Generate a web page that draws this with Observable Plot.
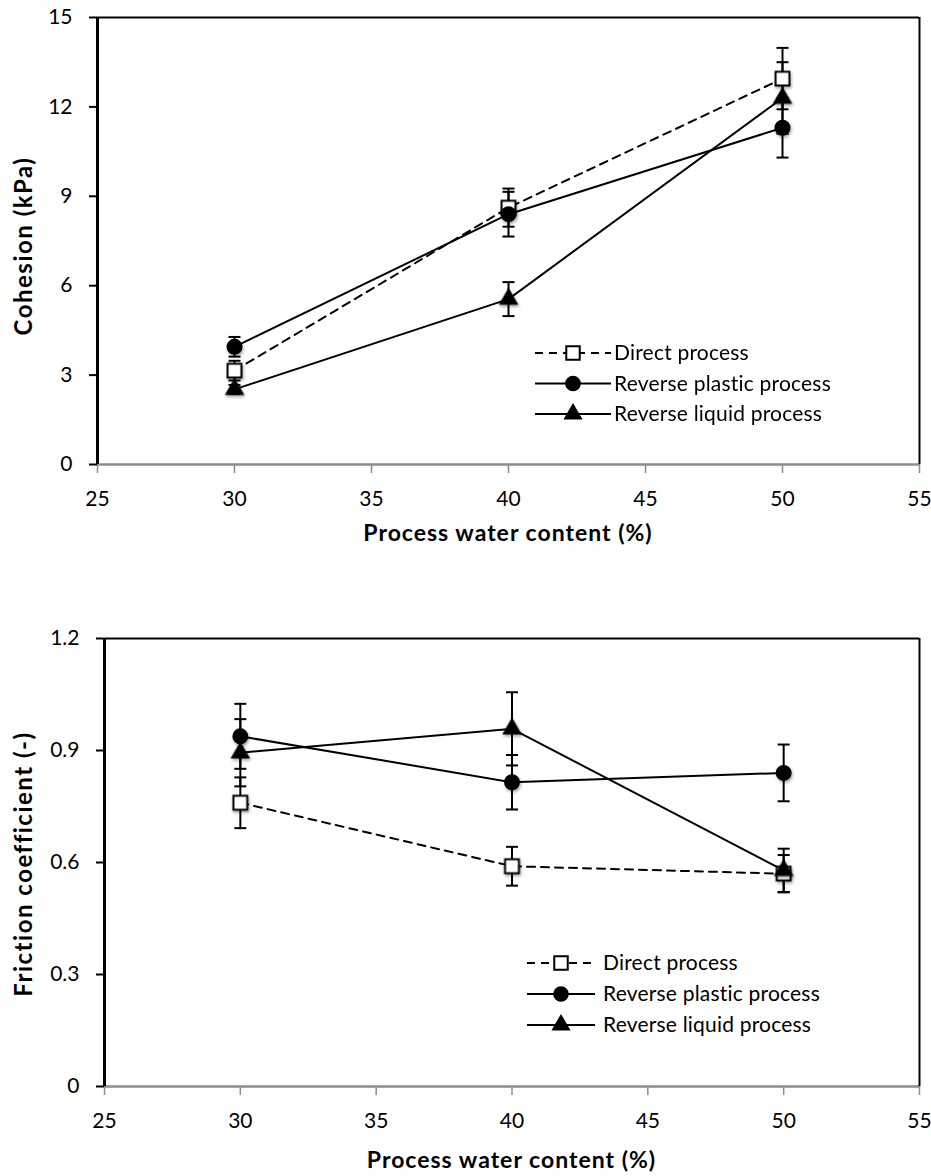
<!DOCTYPE html>
<html>
<head>
<meta charset="utf-8">
<script src="https://cdn.jsdelivr.net/npm/d3@7"></script>
<script src="https://cdn.jsdelivr.net/npm/@observablehq/plot@0.6"></script>
<style>
  html, body { margin: 0; padding: 0; background: white; }
  #page { position: relative; width: 931px; height: 1176px; overflow: hidden; font-family: Lato, "Open Sans", sans-serif; }
  .panel { position: absolute; left: 0; }
  .xtitle { position: absolute; font-weight: bold; font-size: 23px; letter-spacing: 1px; line-height: 26px; text-align: center; color: black; white-space: nowrap; }
  .ytitle { position: absolute; font-weight: bold; font-size: 24px; letter-spacing: 1.5px; line-height: 26px; text-align: center; color: black; width: 340px; height: 26px; transform: rotate(-90deg); transform-origin: center center; white-space: nowrap; }
  .legend { position: absolute; }
</style>
</head>
<body>
<div id="page"></div>
<script>
// ---- data ----
const water = [30, 40, 50];
const xTicks = [25, 30, 35, 40, 45, 50, 55];
const seriesNames = ["Direct process", "Reverse plastic process", "Reverse liquid process"];
const xTitle = "Process water content (%)";

const cohesionTitle = "Cohesion (kPa)";
const cohesionTicks = [0, 3, 6, 9, 12, 15];
const cohesionDirect = [3.15, 8.62, 12.95];
const cohesionDirectErr = [0.33, 0.64, 1.03];
const cohesionPlastic = [3.95, 8.4, 11.3];
const cohesionPlasticErr = [0.33, 0.75, 1.0];
const cohesionLiquid = [2.52, 5.55, 12.3];
const cohesionLiquidErr = [0.15, 0.57, 1.2];

const frictionTitle = "Friction coefficient (-)";
const frictionTicks = [0, 0.3, 0.6, 0.9, 1.2];
const frictionDirect = [0.76, 0.59, 0.57];
const frictionDirectErr = [0.068, 0.052, 0.05];
const frictionPlastic = [0.938, 0.815, 0.84];
const frictionPlasticErr = [0.087, 0.073, 0.076];
const frictionLiquid = [0.894, 0.958, 0.579];
const frictionLiquidErr = [0.09, 0.098, 0.058];

// ---- styling of the series ----
const seriesStyle = [
  {symbol: "square", fill: "white", r: 7.8, dash: "8,6"},
  {symbol: "circle", fill: "black", r: 7, dash: null},
  {symbol: "triangle", fill: "black", r: 6, dash: null}
];

function rows(values, errs) {
  return water.map((w, i) => ({x: w, y: values[i], e: errs[i]}));
}

const capSymbol = {
  draw(context, size) {
    const r = Math.sqrt(size / Math.PI);
    context.moveTo(-r, 0);
    context.lineTo(r, 0);
  }
};

function panel({yTicks, series, height, marginTop, marginBottom, marginLeft, tickFormat}) {
  const yMin = yTicks[0], yMax = yTicks[yTicks.length - 1];
  const marks = [
    Plot.ruleY([0], {stroke: "#8c8c8c", strokeWidth: 2.5}),
    Plot.ruleY([yMax], {stroke: "black", strokeWidth: 2}),
    Plot.ruleX([xTicks[xTicks.length - 1]], {stroke: "black", strokeWidth: 2}),
    Plot.axisX({ticks: xTicks, tickSize: 9, tickPadding: 18, stroke: "#8c8c8c", strokeWidth: 1.5, label: null, fill: "black", fontSize: 21}),
    Plot.axisY({ticks: yTicks, tickSize: 8, tickPadding: 17, strokeWidth: 2, label: null, tickFormat, fill: "black", fontSize: 21}),
    Plot.ruleX([xTicks[0]], {stroke: "black", strokeWidth: 3})
  ];
  series.forEach((data, i) => {
    const st = seriesStyle[i];
    marks.push(Plot.line(data, {x: "x", y: "y", stroke: "black", strokeWidth: 2, strokeDasharray: st.dash || undefined}));
  });
  series.forEach((data) => {
    marks.push(Plot.ruleX(data, {x: "x", y1: d => d.y - d.e, y2: d => d.y + d.e, stroke: "black", strokeWidth: 2}));
    marks.push(Plot.dot(data, {x: "x", y: d => d.y + d.e, symbol: capSymbol, r: 6, stroke: "black", strokeWidth: 2}));
    marks.push(Plot.dot(data, {x: "x", y: d => d.y - d.e, symbol: capSymbol, r: 6, stroke: "black", strokeWidth: 2}));
  });
  series.forEach((data, i) => {
    const st = seriesStyle[i];
    marks.push(Plot.dot(data, {x: "x", y: "y", symbol: st.symbol, r: st.r, fill: st.fill, stroke: "black", strokeWidth: 2, ariaDescription: "marker"}));
  });
  const svg = Plot.plot({
    width: 931, height, marginTop, marginBottom, marginLeft, marginRight: 12,
    x: {domain: [xTicks[0], xTicks[xTicks.length - 1]]},
    y: {domain: [yMin, yMax]},
    style: {fontFamily: "Lato, 'Open Sans', sans-serif", fontSize: "21px", color: "black", background: "white", overflow: "visible"},
    marks
  });
  d3.select(svg).selectAll('g[aria-description="marker"]').style("filter", "drop-shadow(1.5px 2px 1.5px rgba(0,0,0,0.35))");
  return svg;
}

function legend({left, top, lineLen, markerX, textX, rowGap}) {
  const w = 340, h = rowGap * 3 + 10;
  const svg = d3.create("svg").attr("width", w).attr("height", h).attr("class", "legend")
    .style("left", left + "px").style("top", top + "px").style("overflow", "visible");
  seriesNames.forEach((name, i) => {
    const st = seriesStyle[i];
    const cy = rowGap * i + 12;
    const g = svg.append("g");
    g.append("line").attr("x1", 0).attr("x2", lineLen).attr("y1", cy).attr("y2", cy)
      .attr("stroke", "black").attr("stroke-width", 2).attr("stroke-dasharray", st.dash);
    const sym = st.symbol === "square" ? d3.symbolSquare : st.symbol === "circle" ? d3.symbolCircle : d3.symbolTriangle;
    g.append("path").attr("d", d3.symbol(sym, Math.PI * st.r * st.r * 0.95)())
      .attr("transform", `translate(${markerX},${cy})`)
      .attr("fill", st.fill).attr("stroke", "black").attr("stroke-width", 2);
    g.append("text").attr("x", textX).attr("y", cy).attr("dy", "0.35em")
      .attr("font-family", "Lato, 'Open Sans', sans-serif").attr("font-size", 21).attr("letter-spacing", 0.2).attr("fill", "black")
      .text(name);
  });
  return svg.node();
}

const page = document.getElementById("page");

// ---- top panel: cohesion ----
const cohesionChart = panel({
  yTicks: cohesionTicks,
  series: [rows(cohesionDirect, cohesionDirectErr), rows(cohesionPlastic, cohesionPlasticErr), rows(cohesionLiquid, cohesionLiquidErr)],
  height: 545, marginTop: 17, marginBottom: 81, marginLeft: 97,
  tickFormat: d => String(d)
});
cohesionChart.classList.add("panel");
cohesionChart.style.top = "0px";
page.appendChild(cohesionChart);

// ---- bottom panel: friction ----
const frictionChart = panel({
  yTicks: frictionTicks,
  series: [rows(frictionDirect, frictionDirectErr), rows(frictionPlastic, frictionPlasticErr), rows(frictionLiquid, frictionLiquidErr)],
  height: 631, marginTop: 93, marginBottom: 90, marginLeft: 104,
  tickFormat: d => String(d)
});
frictionChart.classList.add("panel");
frictionChart.style.top = "545px";
page.appendChild(frictionChart);

// ---- axis titles ----
function addX(text, left, right, cy) {
  const d = document.createElement("div");
  d.className = "xtitle";
  d.textContent = text;
  d.style.left = left + "px";
  d.style.width = (right - left) + "px";
  d.style.top = (cy - 13) + "px";
  page.appendChild(d);
}
function addY(text, cx, cy) {
  const d = document.createElement("div");
  d.className = "ytitle";
  d.textContent = text;
  d.style.left = (cx - 170) + "px";
  d.style.top = (cy - 13) + "px";
  page.appendChild(d);
}
addX(xTitle, 97, 919, 532);
addY(cohesionTitle, 23, 246);
addX(xTitle, 104, 919, 1159);
addY(frictionTitle, 23, 864);

// ---- legends ----
page.appendChild(legend({left: 535, top: 341, lineLen: 76, markerX: 38, textX: 79, rowGap: 30.5}));
page.appendChild(legend({left: 527, top: 951, lineLen: 68, markerX: 34, textX: 76, rowGap: 31}));
</script>
</body>
</html>
